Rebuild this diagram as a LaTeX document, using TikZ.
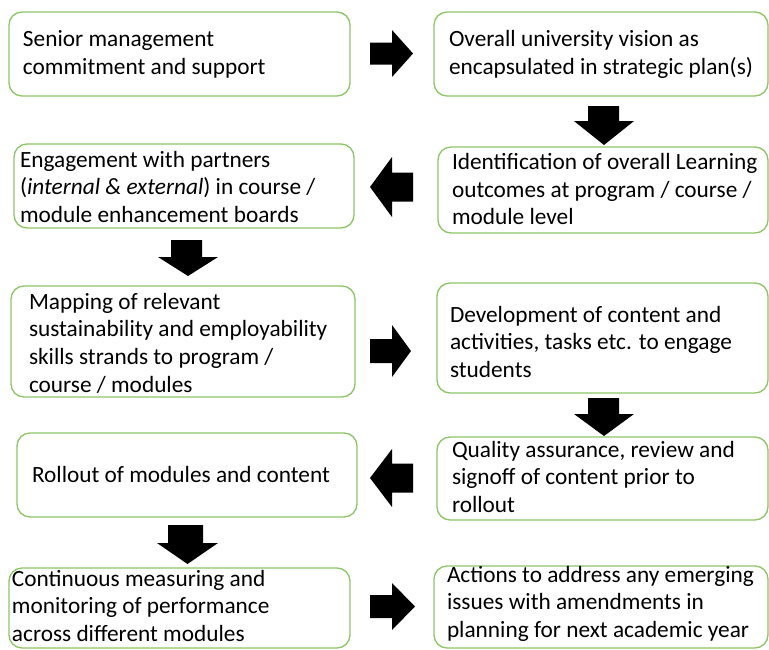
\documentclass[tikz,border=0pt]{standalone}
\usepackage{fontspec}
\setmainfont{Carlito}
\definecolor{boxgreen}{RGB}{140,197,100}
\begin{document}
\begin{tikzpicture}[x=1pt,y=-1pt,
  stepbox/.style={draw=boxgreen,line width=1.3pt,rounded corners=13pt,inner sep=0pt,outer sep=0pt,fill=white},
  lbl/.style={anchor=base west,inner sep=0pt,outer sep=0pt,align=left,font=\fontsize{23.3}{27.7}\selectfont},
  blk/.style={fill=black,draw=none}]
\useasboundingbox[fill=white] (0,0) rectangle (769,649);

% boxes
\node[stepbox,minimum width=341pt,minimum height=84pt] (b1) at (179.5,54) {};
\node[stepbox,minimum width=334pt,minimum height=84pt] (b2) at (601,54) {};
\node[stepbox,minimum width=330pt,minimum height=86pt] (b3) at (603,190) {};
\node[stepbox,minimum width=340pt,minimum height=84pt] (b4) at (184,186) {};
\node[stepbox,minimum width=344pt,minimum height=111pt] (b5) at (183,341.5) {};
\node[stepbox,minimum width=331pt,minimum height=110pt] (b6) at (602.5,338) {};
\node[stepbox,minimum width=331pt,minimum height=83pt] (b7) at (602.5,478.5) {};
\node[stepbox,minimum width=340pt,minimum height=84pt] (b8) at (187,475) {};
\node[stepbox,minimum width=341pt,minimum height=80pt] (b9) at (179.5,608) {};
\node[stepbox,minimum width=334pt,minimum height=82pt] (b10) at (601,607) {};

% texts (anchored at the baseline of the last line)
\node[lbl] (t1) at (23,74.2) {Senior management\\commitment and support};
\node[lbl] (t2) at (449,74.2) {Overall university vision as\\encapsulated in strategic plan(s)};
\node[lbl] (t3) at (452,224.9) {Identification of overall Learning\\outcomes at program / course /\\module level};
\node[lbl] (t4) at (20,222.4) {Engagement with partners\\(\textit{internal \& external}) in course /\\module enhancement boards};
\node[lbl] (t5) at (29,392.1) {Mapping of relevant\\sustainability and employability\\skills strands to program /\\course / modules};
\node[lbl] (t6) at (450,377.4) {Development of content and\\activities, tasks etc. to engage\\students};
\node[lbl] (t7) at (452,512.4) {Quality assurance, review and\\signoff of content prior to\\rollout};
\node[lbl] (t8) at (32,482) {Rollout of modules and content};
\node[lbl] (t9) at (12,641.4) {Continuous measuring and\\monitoring of performance\\across different modules};
\node[lbl] (t10) at (447,637.4) {Actions to address any emerging\\issues with amendments in\\planning for next academic year};

% block arrows
\fill[blk] (370,42.5)--(392,42.5)--(392,30)--(413,53.5)--(392,77)--(392,64.5)--(370,64.5)--cycle;
\fill[blk] (588,106)--(619,106)--(619,121)--(634,121)--(604,145)--(574,121)--(588,121)--cycle;
\fill[blk] (413,172.5)--(392,172.5)--(392,157)--(370,187)--(392,217)--(392,201.5)--(413,201.5)--cycle;
\fill[blk] (171,240)--(202,240)--(202,257)--(218,257)--(188,276)--(158,257)--(171,257)--cycle;
\fill[blk] (370,339)--(392,339)--(392,325)--(411,351)--(392,377)--(392,363)--(370,363)--cycle;
\fill[blk] (588,398)--(619,398)--(619,414)--(634,414)--(604,436)--(574,414)--(588,414)--cycle;
\fill[blk] (413,463.5)--(392,463.5)--(392,449)--(370,478)--(392,507)--(392,492.5)--(413,492.5)--cycle;
\fill[blk] (168,525)--(203,525)--(203,543)--(218,543)--(187.5,564)--(157,543)--(168,543)--cycle;
\fill[blk] (370,595)--(392,595)--(392,583)--(415,606.5)--(392,630)--(392,618)--(370,618)--cycle;
\end{tikzpicture}
\end{document}
